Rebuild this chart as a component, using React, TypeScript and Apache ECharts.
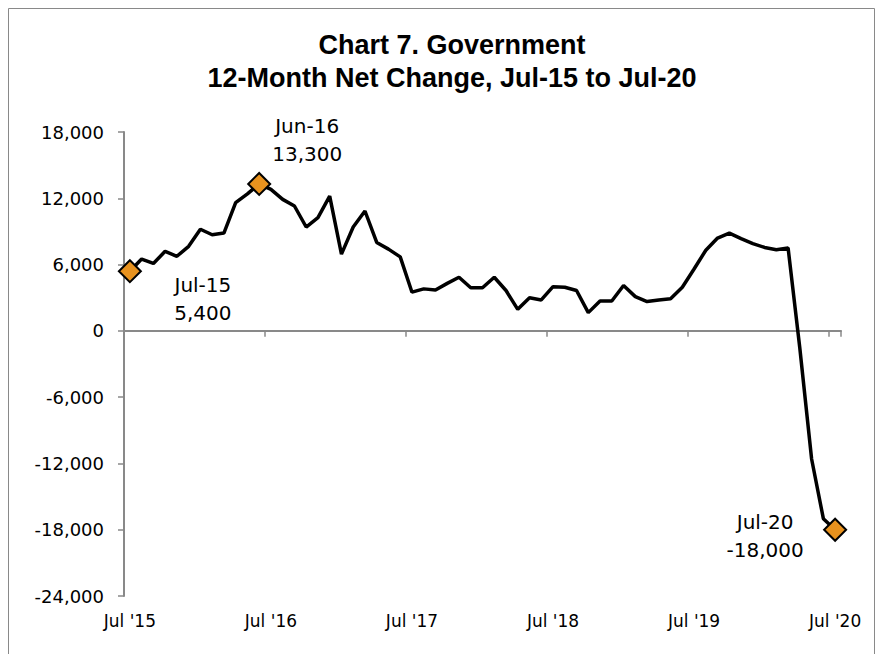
import React, { useEffect, useRef } from "react";
import * as echarts from "echarts";

const months: string[] = [
  "Jul-15","Aug-15","Sep-15","Oct-15","Nov-15","Dec-15",
  "Jan-16","Feb-16","Mar-16","Apr-16","May-16","Jun-16",
  "Jul-16","Aug-16","Sep-16","Oct-16","Nov-16","Dec-16",
  "Jan-17","Feb-17","Mar-17","Apr-17","May-17","Jun-17",
  "Jul-17","Aug-17","Sep-17","Oct-17","Nov-17","Dec-17",
  "Jan-18","Feb-18","Mar-18","Apr-18","May-18","Jun-18",
  "Jul-18","Aug-18","Sep-18","Oct-18","Nov-18","Dec-18",
  "Jan-19","Feb-19","Mar-19","Apr-19","May-19","Jun-19",
  "Jul-19","Aug-19","Sep-19","Oct-19","Nov-19","Dec-19",
  "Jan-20","Feb-20","Mar-20","Apr-20","May-20","Jun-20",
  "Jul-20",
];

const netChange: number[] = [
  5400, 6500, 6100, 7200, 6750, 7650,
  9200, 8700, 8850, 11600, 12400, 13300,
  12800, 11900, 11300, 9400, 10250, 12200,
  6950, 9400, 10850, 8000, 7400, 6700,
  3500, 3800, 3700, 4300, 4850, 3900,
  3900, 4850, 3650, 1950, 3000, 2800,
  4000, 3950, 3650, 1650, 2700, 2700,
  4100, 3100, 2650, 2800, 2900, 3950,
  5600, 7300, 8400, 8850, 8350, 7900,
  7550, 7350, 7500, -1600, -11600, -17000,
  -18000,
];

const highlightIdx: number[] = [0, 11, 60];
const labelOffsets: number[][] = [[73, 28], [48, -44], [-70, 6]];

const titleLines: string[] = ["Chart 7. Government", "12-Month Net Change, Jul-15 to Jul-20"];

const yMin = -24000;
const yMax = 18000;
const yStep = 6000;

const fmt = (v: number) => {
  const s = Math.abs(v).toString().replace(/\B(?=(\d{3})+(?!\d))/g, ",");
  return (v < 0 ? "-" : "") + s;
};

const AXIS = "#898989";
const FONT = "'DejaVu Sans', sans-serif";

export default function App() {
  const ref = useRef<HTMLDivElement>(null);
  useEffect(() => {
    if (!ref.current) return;
    const chart = echarts.init(ref.current, null, { renderer: "svg" });
    const xLabel = (v: string) => {
      const [m, y] = v.split("-");
      return `${m} '${y}`;
    };
    chart.setOption({
      animation: false,
      backgroundColor: "#ffffff",
      graphic: [
        {
          type: "rect",
          shape: { x: 0.5, y: 0.5, width: 866, height: 720 },
          style: { fill: "none", stroke: AXIS, lineWidth: 1 },
          silent: true,
        },
        {
          type: "text",
          x: 444,
          y: 37,
          style: {
            text: titleLines[0],
            align: "center",
            verticalAlign: "middle",
            font: "bold 27px 'Liberation Sans', sans-serif",
            fill: "#000",
          },
        },
        {
          type: "text",
          x: 444,
          y: 70,
          style: {
            text: titleLines[1],
            align: "center",
            verticalAlign: "middle",
            font: "bold 27px 'Liberation Sans', sans-serif",
            fill: "#000",
          },
        },
      ],
      grid: { left: 116, right: 34, top: 124, bottom: 58, containLabel: false },
      xAxis: [
        {
          type: "category",
          data: months,
          boundaryGap: true,
          position: "bottom",
          axisLine: { show: true, onZero: true, lineStyle: { color: AXIS, width: 2 } },
          axisTick: { show: true, interval: 11, length: 6, lineStyle: { color: AXIS, width: 1.5 } },
          axisLabel: { show: false },
          splitLine: { show: false },
        },
        {
          type: "category",
          data: months,
          boundaryGap: true,
          position: "bottom",
          axisLine: { show: false, onZero: false },
          axisTick: { show: false },
          axisLabel: {
            show: true,
            interval: 11,
            margin: 16,
            formatter: xLabel,
            color: "#000",
            fontSize: 17,
            fontFamily: FONT,
          },
          splitLine: { show: false },
        },
      ],
      yAxis: {
        type: "value",
        min: yMin,
        max: yMax,
        interval: yStep,
        axisLine: { show: true, lineStyle: { color: AXIS, width: 2 } },
        axisTick: { show: true, length: 6, lineStyle: { color: AXIS, width: 1.5 } },
        axisLabel: {
          formatter: (v: number) => fmt(v),
          color: "#000",
          fontSize: 18,
          fontFamily: FONT,
          margin: 20,
        },
        splitLine: { show: false },
      },
      series: [
        {
          type: "line",
          xAxisIndex: 0,
          data: netChange,
          showSymbol: false,
          symbol: "none",
          lineStyle: { color: "#000", width: 3.5 },
          z: 2,
        },
        {
          type: "scatter",
          xAxisIndex: 0,
          symbol: "diamond",
          symbolSize: 22,
          itemStyle: { color: "#E8921E", borderColor: "#000", borderWidth: 2, opacity: 1 },
          z: 3,
          data: highlightIdx.map((i, k) => ({
            value: [i, netChange[i]],
            label: {
              show: true,
              position: "inside",
              offset: labelOffsets[k],
              formatter: `${months[i]}\n${fmt(netChange[i])}`,
              color: "#000",
              opacity: 1,
              fontSize: 20,
              lineHeight: 28,
              fontFamily: FONT,
              align: "center",
            },
          })),
        },
      ],
    });
    return () => chart.dispose();
  }, []);
  return <div ref={ref} style={{ width: 867, height: 646 }} />;
}
